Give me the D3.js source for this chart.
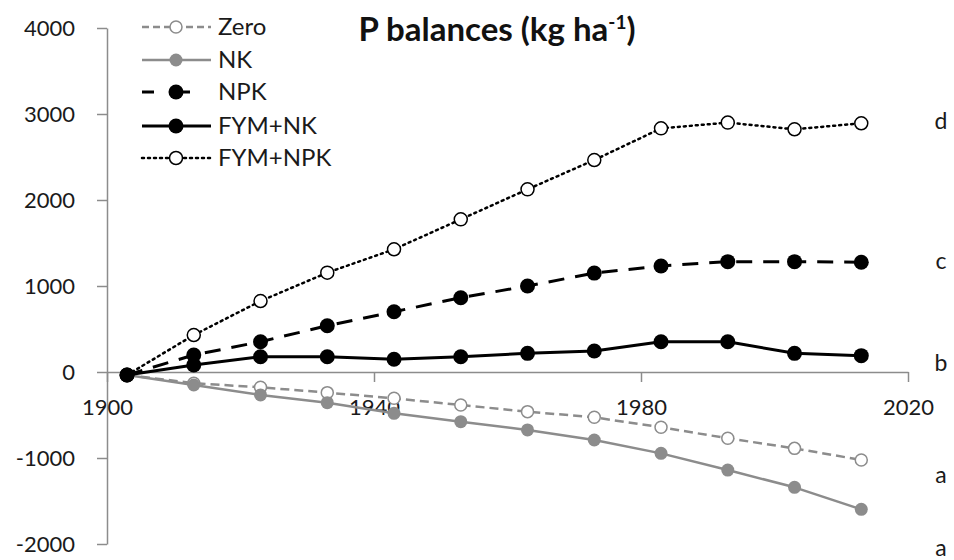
<!DOCTYPE html>
<html><head><meta charset="utf-8">
<script src="https://cdn.jsdelivr.net/npm/d3@7"></script>
<style>body{margin:0;background:#fff}svg{display:block}</style>
</head><body><svg id="c" width="954" height="560"></svg>
<script>
const years = [1903,1913,1923,1933,1943,1953,1963,1973,1983,1993,2003,2013];
const zeroVals   = [-35,-130,-178,-240,-306,-384,-461,-527,-643,-771,-888,-1023];
const nkVals     = [-35,-151,-267,-357,-480,-578,-674,-791,-946,-1140,-1341,-1597];
const npkVals    = [-35,198,352,538,701,864,1000,1150,1233,1283,1283,1276];
const fymNkVals  = [-35,81,178,178,148,178,217,244,352,352,217,190];
const fymNpkVals = [-35,430,825,1155,1427,1775,2124,2465,2833,2900,2822,2892];
const seriesNames = ["Zero","NK","NPK","FYM+NK","FYM+NPK"];
const xTicks = [1900,1940,1980,2020];
const yTicks = [4000,3000,2000,1000,0,-1000,-2000];
const letters = [{t:"d",v:2920},{t:"c",v:1290},{t:"b",v:100},{t:"a",v:-1200},{t:"a",v:-2050}];

const styles = {
  "Zero":    {color:"#8c8c8c", w:2.5, dash:"9,5", fill:"#fff", r:6, sw:1.5},
  "NK":      {color:"#8c8c8c", w:2.5, dash:null, fill:"#8c8c8c", r:6.5, sw:0},
  "NPK":     {color:"#000", w:3, dash:"16,11", fill:"#000", r:7.5, sw:0},
  "FYM+NK":  {color:"#000", w:3, dash:null, fill:"#000", r:7.5, sw:0},
  "FYM+NPK": {color:"#000", w:2.5, dash:"2,4", fill:"#fff", r:6.5, sw:1.5}
};
const data = [zeroVals,nkVals,npkVals,fymNkVals,fymNpkVals];
const drawOrder = [0,1,4,2,3];

const svg = d3.select("#c");
const font = "Lato, 'Open Sans', sans-serif";
const x = d3.scaleLinear().domain([1900,2020]).range([107,908]);
const y = d3.scaleLinear().domain([-2000,4000]).range([544,28]);
const axisColor = "#8c8c8c";
const fmt = d => String(d);

// y axis
const ya = svg.append("g").attr("transform","translate(107,0)")
  .call(d3.axisLeft(y).tickValues(yTicks).tickSize(10).tickSizeOuter(0).tickPadding(22).tickFormat(fmt));
ya.select(".domain").attr("stroke",axisColor).attr("stroke-width",1.5);
ya.selectAll(".tick line").attr("stroke",axisColor).attr("stroke-width",1.5);
ya.selectAll(".tick text").attr("font-family",font).attr("font-size",22).attr("fill","#1a1a1a");

// x axis at y=0
const xa = svg.append("g").attr("transform",`translate(0,${y(0)})`)
  .call(d3.axisBottom(x).tickValues(xTicks).tickSize(10).tickSizeOuter(0).tickPadding(17).tickFormat(fmt));
xa.select(".domain").attr("stroke",axisColor).attr("stroke-width",1.5);
xa.selectAll(".tick line").attr("stroke",axisColor).attr("stroke-width",1.5);
xa.selectAll(".tick text").attr("font-family",font).attr("font-size",22).attr("fill","#1a1a1a");

const line = d3.line().x((d,i)=>x(years[i])).y(d=>y(d));

drawOrder.forEach(k=>{
  const name = seriesNames[k];
  const s = styles[name];
  const g = svg.append("g");
  g.append("path").datum(data[k]).attr("d",line).attr("fill","none")
    .attr("stroke",s.color).attr("stroke-width",s.w)
    .attr("stroke-dasharray",s.dash).attr("stroke-linecap", name==="FYM+NPK"?"round":"butt")
    .attr("stroke-linejoin","round");
  g.selectAll("circle").data(data[k]).join("circle")
    .attr("cx",(d,i)=>x(years[i])).attr("cy",d=>y(d)).attr("r",s.r)
    .attr("fill",s.fill).attr("stroke",s.sw? s.color : "none").attr("stroke-width",s.sw);
});

// legend
const legY = [27,60,92,126,158];
seriesNames.forEach((name,k)=>{
  const s = styles[name];
  const g = svg.append("g").attr("transform",`translate(0,${legY[k]})`);
  g.append("line").attr("x1",142).attr("x2",211).attr("y1",0).attr("y2",0)
    .attr("stroke",s.color).attr("stroke-width",s.w)
    .attr("stroke-dasharray", name==="Zero"?"7,4": name==="NPK"?"12,24": s.dash)
    .attr("stroke-linecap", name==="FYM+NPK"?"round":"butt");
  g.append("circle").attr("cx",176).attr("cy",0).attr("r",s.r)
    .attr("fill",s.fill).attr("stroke",s.sw? s.color:"none").attr("stroke-width",s.sw);
  g.append("text").attr("x",218).attr("y",0).attr("dy","0.35em")
    .attr("font-family",font).attr("font-size",24).attr("fill","#1a1a1a").text(name);
});

// title
const t = svg.append("text").attr("x",497).attr("y",41).attr("text-anchor","middle")
  .attr("font-family",font).attr("font-size",33).attr("font-weight","bold").attr("fill","#111");
t.append("tspan").text("P balances (kg ha");
t.append("tspan").attr("font-size",19).attr("dy",-12).text("-1");
t.append("tspan").attr("dy",12).text(")");

// significance letters
svg.selectAll(".let").data(letters).join("text").attr("class","let")
  .attr("x",941).attr("y",d=>y(d.v)).attr("dy","0.35em").attr("text-anchor","middle")
  .attr("font-family",font).attr("font-size",23).attr("fill","#1a1a1a").text(d=>d.t);
</script></body></html>
